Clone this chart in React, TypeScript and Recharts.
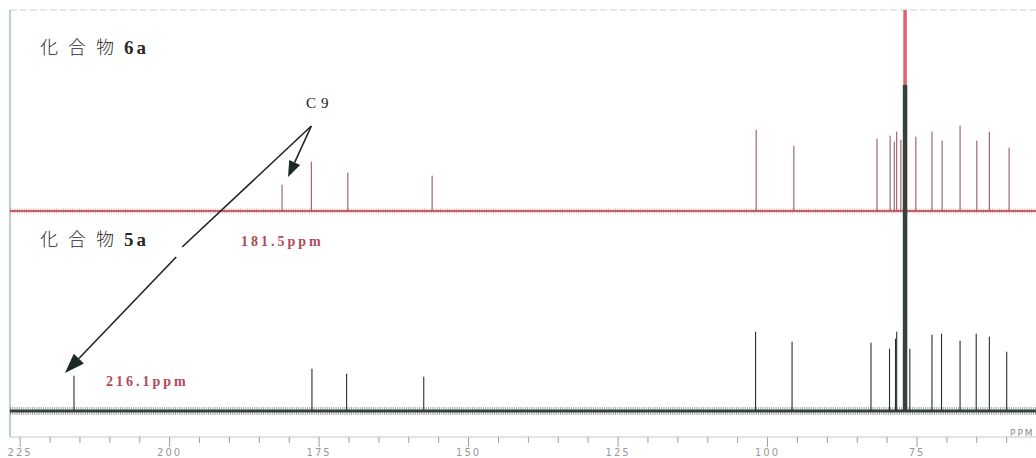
import React from 'react';
import { ComposedChart, Line, XAxis, YAxis, ReferenceLine } from 'recharts';

// 13C NMR stick spectra, ppm axis runs right-to-left
const X_MIN = 55.1;
const X_MAX = 226.7;

const PPM_TICKS = [225, 220, 215, 210, 205, 200, 195, 190, 185, 180, 175, 170, 165, 160, 155, 150, 145, 140, 135, 130, 125, 120, 115, 110, 105, 100, 95, 90, 85, 80, 75, 70, 65, 60];
const PPM_LABELS = [225, 200, 175, 150, 125, 100, 75];

// 化合物 6a (upper trace)
const ppm6a = [181.2, 176.3, 170.2, 156.1, 101.9, 95.6, 81.7, 79.5, 78.8, 78.4, 77.7, 75.2, 72.5, 70.8, 67.8, 65.0, 62.9, 59.6];
const h6a = [26, 49, 38, 35, 81, 65, 72, 75, 69, 79, 71, 74, 79, 70, 85, 70, 79, 63];

// 化合物 5a (lower trace)
const ppm5a = [216.0, 176.2, 170.4, 157.5, 102.0, 95.9, 82.7, 79.6, 78.6, 78.4, 76.2, 72.5, 70.9, 67.8, 65.1, 62.9, 60.0];
const h5a = [35, 42, 37, 34, 79, 69, 68, 62, 72, 79, 62, 76, 77, 70, 77, 74, 59];

// CDCl3 solvent line
const solventPpm = 77.0;
const solvent6a = 300;
const solvent5a = 326;

// arrow from the C9 label (data coords on the lower trace's scale)
const arrowFrom = { x: 176.3, y: 285 };
const arrowShortTip = { x: 180.2, y: 234 };
const arrowGapStart = { x: 197.9, y: 164 };
const arrowGapEnd = { x: 198.9, y: 154 };
const arrowLongTip = { x: 217.5, y: 38 };

const sticks = (ppm: number[], h: number[]) => {
  const pts: { ppm: number; v: number }[] = [{ ppm: X_MAX, v: 0 }];
  ppm.forEach((p, i) => {
    pts.push({ ppm: p, v: 0 }, { ppm: p, v: h[i] }, { ppm: p, v: 0 });
  });
  pts.push({ ppm: X_MIN, v: 0 });
  return pts;
};

const data6a = sticks(ppm6a, h6a);
const data5a = sticks(ppm5a, h5a);
const solventData6a = [{ ppm: solventPpm, v: 0 }, { ppm: solventPpm, v: solvent6a }];
const solventData5a = [{ ppm: solventPpm, v: 0 }, { ppm: solventPpm, v: solvent5a }];

const PpmTick = (props: any) => {
  const { x, y, payload } = props;
  const major = PPM_LABELS.includes(payload.value);
  return (
    <g>
      <line x1={x} x2={x} y1={y} y2={y + (major ? 10 : 6)} stroke="#9aa0a0" strokeWidth={1} />
      {major && (
        <text x={x} y={y + 19} textAnchor="middle" fontSize={10} letterSpacing={2}
          fontFamily="DejaVu Sans" fill="#999">
          {payload.value}
        </text>
      )}
    </g>
  );
};

const arrowShape = (head: boolean, len: number, wid: number) => (p: any) => {
  const { x1, y1, x2, y2 } = p;
  const dx = x2 - x1;
  const dy = y2 - y1;
  const d = Math.hypot(dx, dy) || 1;
  const ux = dx / d;
  const uy = dy / d;
  const bx = x2 - ux * len;
  const by = y2 - uy * len;
  return (
    <g>
      <line x1={x1} y1={y1} x2={head ? bx : x2} y2={head ? by : y2} stroke="#1d2621" strokeWidth={1.6} />
      {head && (
        <polygon
          points={`${x2},${y2} ${bx - uy * wid / 2},${by + ux * wid / 2} ${bx + uy * wid / 2},${by - ux * wid / 2}`}
          fill="#1d2a24"
        />
      )}
    </g>
  );
};

const cjk = '"Noto Sans CJK JP", "Noto Sans CJK SC", sans-serif';
const serif = '"Liberation Serif", "DejaVu Serif", serif';

export default function App() {
  return (
    <div style={{ position: 'absolute', left: 0, top: 0, width: 1036, height: 458, overflow: 'hidden', background: '#fff' }}>
      <ComposedChart width={1036} height={458} margin={{ top: 10, right: 0, bottom: 0, left: 10 }}>
        <XAxis
          type="number"
          dataKey="ppm"
          domain={[X_MIN, X_MAX]}
          reversed
          allowDataOverflow
          ticks={PPM_TICKS}
          interval={0}
          tick={<PpmTick />}
          tickLine={false}
          tickSize={0}
          tickMargin={0}
          height={21}
          axisLine={{ stroke: '#c4c8c7' }}
        />
        <YAxis yAxisId="a" hide domain={[-226, 201]} allowDataOverflow />
        <YAxis yAxisId="b" hide domain={[-26, 401]} allowDataOverflow />

        <ReferenceLine yAxisId="a" y={201} stroke="#cfd3d2" strokeDasharray="7 3" ifOverflow="visible" />
        <ReferenceLine yAxisId="a" x={X_MAX} stroke="#8fb2ad" strokeWidth={1.2} ifOverflow="visible" />

        {/* noise bands along each baseline */}
        <ReferenceLine yAxisId="a" y={0} stroke="#e2525f" strokeWidth={5} strokeOpacity={0.45} strokeDasharray="1 1.3" />
        <ReferenceLine yAxisId="a" y={0} stroke="#de5461" strokeWidth={2} strokeOpacity={0.85} />
        <ReferenceLine yAxisId="b" y={0} stroke="#2c3a33" strokeWidth={8} strokeOpacity={0.45} strokeDasharray="1 1.2" />
        <ReferenceLine yAxisId="b" y={0} stroke="#2c3a33" strokeWidth={3} strokeOpacity={0.85} />

        <Line yAxisId="a" data={solventData6a} dataKey="v" stroke="#e0606c" strokeWidth={3.5}
          dot={false} isAnimationActive={false} />
        <Line yAxisId="a" data={data6a} dataKey="v" stroke="#9a5c63" strokeWidth={1.1}
          strokeLinejoin="round" dot={false} isAnimationActive={false} />
        <Line yAxisId="b" data={solventData5a} dataKey="v" stroke="#34423b" strokeWidth={4.5}
          dot={false} isAnimationActive={false} />
        <Line yAxisId="b" data={data5a} dataKey="v" stroke="#25322c" strokeWidth={1.1}
          strokeLinejoin="round" dot={false} isAnimationActive={false} />

        <ReferenceLine yAxisId="b" segment={[arrowFrom, arrowShortTip]} ifOverflow="visible"
          shape={arrowShape(true, 16, 12)} />
        <ReferenceLine yAxisId="b" segment={[arrowFrom, arrowGapStart]} ifOverflow="visible"
          shape={arrowShape(false, 0, 0)} />
        <ReferenceLine yAxisId="b" segment={[arrowGapEnd, arrowLongTip]} ifOverflow="visible"
          shape={arrowShape(true, 20, 14)} />
      </ComposedChart>

      <svg width={1036} height={458} style={{ position: 'absolute', left: 0, top: 0, pointerEvents: 'none' }}>
        <text y={54} fontSize={18} fill="#2a2a2a" fontFamily={cjk} fontWeight={300}>
          <tspan x={40}>化</tspan>
          <tspan x={68}>合</tspan>
          <tspan x={96}>物</tspan>
          <tspan x={124} fontFamily={serif} fontWeight="bold" fontSize={19} letterSpacing={3}>6a</tspan>
        </text>
        <text y={246} fontSize={18} fill="#2a2a2a" fontFamily={cjk} fontWeight={300}>
          <tspan x={40}>化</tspan>
          <tspan x={68}>合</tspan>
          <tspan x={96}>物</tspan>
          <tspan x={124} fontFamily={serif} fontWeight="bold" fontSize={19} letterSpacing={3}>5a</tspan>
        </text>
        <text x={306} y={108} fontSize={15} letterSpacing={5} fill="#222" fontFamily={serif}>C9</text>
        <text x={241} y={246} fontSize={14} letterSpacing={3} fill="#b24a5a" fontWeight="bold" fontFamily={serif}>181.5ppm</text>
        <text x={106} y={386} fontSize={14} letterSpacing={3} fill="#b24a5a" fontWeight="bold" fontFamily={serif}>216.1ppm</text>
        <text x={1010} y={436} fontSize={9} letterSpacing={2} fill="#8a8a8a" fontFamily="DejaVu Sans">PPM</text>
      </svg>
    </div>
  );
}
